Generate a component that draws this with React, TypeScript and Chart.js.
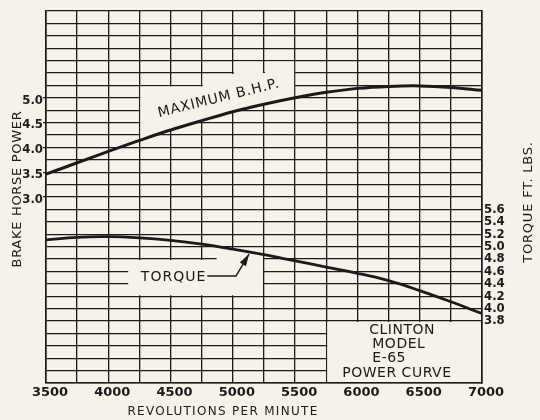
import { useEffect, useRef } from "react";
import { Chart, registerables } from "chart.js";

Chart.register(...registerables);

// ---- data ----
const rpm = [3500, 3750, 4000, 4250, 4500, 4750, 5000, 5250, 5500, 5750, 6000, 6250, 6500, 6750, 7000];
const maxBhp = [3.46, 3.69, 3.92, 4.14, 4.35, 4.54, 4.72, 4.87, 5.0, 5.11, 5.19, 5.23, 5.24, 5.21, 5.15];
const torqueFtLbs = [5.11, 5.15, 5.16, 5.14, 5.1, 5.04, 4.96, 4.87, 4.77, 4.67, 4.57, 4.45, 4.29, 4.11, 3.92];
const rpmTickLabels = [3500, 4000, 4500, 5000, 5500, 6000, 6500, 7000];
const bhpTickLabels = [3.0, 3.5, 4.0, 4.5, 5.0];
const torqueTickLabels = [3.8, 4.0, 4.2, 4.4, 4.6, 4.8, 5.0, 5.2, 5.4, 5.6];
const boxLines = ["CLINTON", "MODEL", "E-65", "POWER CURVE"];

const PAPER = "#f6f2ea";
const INK = "#1a1a1a";
const FONT = "'DejaVu Sans', 'Liberation Sans', sans-serif";
const COND = "'DejaVu Sans Condensed', 'DejaVu Sans', sans-serif";

const r2 = (v: number) => Math.round(v * 100) / 100;

function curveYAt(chart: any, dsIndex: number, xPix: number) {
  const pts = chart.getDatasetMeta(dsIndex).data;
  for (let i = 0; i < pts.length - 1; i++) {
    const a = pts[i], b = pts[i + 1];
    if (xPix >= a.x && xPix <= b.x) {
      const t = (xPix - a.x) / (b.x - a.x);
      return a.y + (b.y - a.y) * t;
    }
  }
  return pts[pts.length - 1].y;
}

const maskPlugin = {
  id: "masks",
  beforeDatasetsDraw(chart: any) {
    const { ctx } = chart;
    const sx = chart.scales.x, sy = chart.scales.y, st = chart.scales.y1;
    const X = (v: number) => sx.getPixelForValue(v);
    const Y = (v: number) => sy.getPixelForValue(v);
    const T = (v: number) => st.getPixelForValue(v);
    ctx.save();
    ctx.fillStyle = PAPER;

    // blank area above the B.H.P. curve (label space)
    ctx.beginPath();
    ctx.moveTo(X(4250) + 1, Y(5.25) + 1);
    ctx.lineTo(X(4750) + 1, Y(5.25) + 1);
    ctx.lineTo(X(4750) + 1, Y(5.5) + 1);
    ctx.lineTo(X(5000) + 1, Y(5.5) + 1);
    ctx.lineTo(X(5000) + 1, Y(5.75) + 1);
    ctx.lineTo(X(5250) - 1, Y(5.75) + 1);
    ctx.lineTo(X(5250) - 1, Y(5.5));
    ctx.lineTo(X(5250) + 1, Y(5.5));
    ctx.lineTo(X(5250) + 1, Y(5.75) + 1);
    ctx.lineTo(X(5500) - 1, Y(5.75) + 1);
    const xr = X(5500) - 1, xl = X(4250) + 1;
    for (let x = xr; x >= xl; x -= 3) ctx.lineTo(x, curveYAt(chart, 0, x));
    ctx.lineTo(xl, curveYAt(chart, 0, xl));
    ctx.closePath();
    ctx.fill();

    // blank area around the TORQUE label
    ctx.beginPath();
    ctx.moveTo(X(4160), T(4.8) + 1);
    ctx.lineTo(X(4870), T(4.8) + 1);
    const ta = X(4870), tb = X(5250) - 1;
    for (let x = ta; x <= tb; x += 3) ctx.lineTo(x, curveYAt(chart, 1, x));
    ctx.lineTo(tb, curveYAt(chart, 1, tb));
    ctx.lineTo(tb, T(4.2) - 1);
    ctx.lineTo(X(4160), T(4.2) - 1);
    ctx.closePath();
    ctx.fill();

    // title box
    ctx.fillRect(X(5750) + 1, T(3.8) + 1, X(7000) - X(5750) - 2, T(2.8) - T(3.8) - 2);
    ctx.restore();
  },
  afterDatasetsDraw(chart: any) {
    const { ctx } = chart;
    const sx = chart.scales.x, sy = chart.scales.y, st = chart.scales.y1;
    const X = (v: number) => sx.getPixelForValue(v);
    const Y = (v: number) => sy.getPixelForValue(v);
    const T = (v: number) => st.getPixelForValue(v);
    ctx.save();
    ctx.fillStyle = INK;
    ctx.strokeStyle = INK;

    // MAXIMUM B.H.P. label along the curve
    ctx.save();
    ctx.translate(X(4407), Y(4.61));
    ctx.rotate(-0.243);
    ctx.font = `14px ${FONT}`;
    (ctx as any).letterSpacing = "0.8px";
    ctx.textAlign = "left";
    ctx.textBaseline = "alphabetic";
    ctx.fillText("MAXIMUM B.H.P.", 0, 0);
    ctx.restore();

    // TORQUE label and arrow
    ctx.save();
    ctx.font = `14px ${FONT}`;
    (ctx as any).letterSpacing = "1px";
    ctx.textAlign = "center";
    ctx.textBaseline = "middle";
    ctx.fillText("TORQUE", X(4516) + 1, T(4.51));
    ctx.restore();

    const p0x = X(4795), p0y = T(4.525);
    const p1x = X(5025), p1y = T(4.525);
    const tipx = X(5130), tipy = T(4.88);
    ctx.lineWidth = 1.5;
    ctx.beginPath();
    ctx.moveTo(p0x, p0y);
    ctx.lineTo(p1x, p1y);
    ctx.lineTo(tipx, tipy);
    ctx.stroke();
    const ang = Math.atan2(tipy - p1y, tipx - p1x);
    const len = 12, hw = 3.6;
    const bx = tipx - len * Math.cos(ang), by = tipy - len * Math.sin(ang);
    ctx.beginPath();
    ctx.moveTo(tipx, tipy);
    ctx.lineTo(bx + hw * Math.sin(ang), by - hw * Math.cos(ang));
    ctx.lineTo(bx - hw * Math.sin(ang), by + hw * Math.cos(ang));
    ctx.closePath();
    ctx.fill();

    // box text
    const bl = X(5750), bt = T(3.8);
    ctx.font = `14px ${FONT}`;
    (ctx as any).letterSpacing = "0.5px";
    ctx.textBaseline = "middle";
    ctx.textAlign = "left";
    ctx.fillText(boxLines[0], bl + 43, bt + 9);
    ctx.fillText(boxLines[1], bl + 46, bt + 23);
    ctx.fillText(boxLines[2], bl + 46, bt + 37);
    ctx.fillText(boxLines[3], bl + 16, bt + 52);
    ctx.restore();
  },
  afterDraw(chart: any) {
    const { ctx } = chart;
    ctx.save();
    ctx.fillStyle = INK;
    ctx.textAlign = "center";
    ctx.textBaseline = "middle";

    ctx.save();
    ctx.translate(18, 189);
    ctx.rotate(-Math.PI / 2);
    ctx.font = `13px ${FONT}`;
    (ctx as any).letterSpacing = "0.7px";
    ctx.fillText("BRAKE HORSE POWER", 0, 0);
    ctx.restore();

    ctx.save();
    ctx.translate(529, 202);
    ctx.rotate(-Math.PI / 2);
    ctx.font = `13px ${FONT}`;
    (ctx as any).letterSpacing = "0.8px";
    ctx.fillText("TORQUE FT. LBS.", 0, 0);
    ctx.restore();

    ctx.font = `12px ${FONT}`;
    (ctx as any).letterSpacing = "1.3px";
    ctx.fillText("REVOLUTIONS PER MINUTE", 223, 412);
    ctx.restore();
  },
};

export default function App() {
  const ref = useRef<HTMLCanvasElement | null>(null);

  useEffect(() => {
    if (!ref.current) return;
    const chart = new Chart(ref.current, {
      type: "line",
      data: {
        datasets: [
          {
            label: "Maximum B.H.P.",
            data: rpm.map((x, i) => ({ x, y: maxBhp[i] })),
            yAxisID: "y",
            borderColor: INK,
            borderWidth: 3,
            pointRadius: 0,
            tension: 0.4,
            fill: false,
          },
          {
            label: "Torque",
            data: rpm.map((x, i) => ({ x, y: torqueFtLbs[i] })),
            yAxisID: "y1",
            borderColor: INK,
            borderWidth: 2.8,
            pointRadius: 0,
            tension: 0.4,
            fill: false,
          },
        ],
      },
      options: {
        animation: false,
        responsive: false,
        layout: { padding: { top: 11, left: 0, right: 0, bottom: 0 } },
        plugins: { legend: { display: false }, tooltip: { enabled: false } },
        scales: {
          x: {
            type: "linear",
            min: 3500,
            max: 7000,
            afterFit: (s: any) => { s.height = 37; },
            grid: { color: INK, lineWidth: 1.3, drawTicks: false },
            border: { color: INK, width: 1.6 },
            ticks: {
              stepSize: 250,
              autoSkip: false,
              maxRotation: 0,
              padding: 2,
              labelOffset: 4,
              color: INK,
              font: { family: FONT, size: 13, weight: "bold" },
              callback: (v: any) => (rpmTickLabels.includes(Number(v)) ? String(v) : ""),
            },
          },
          y: {
            type: "linear",
            position: "left",
            min: -0.75,
            max: 6.75,
            afterFit: (s: any) => { s.width = 46; },
            grid: {
              color: INK,
              lineWidth: 1.3,
              drawTicks: true,
              tickLength: 3,
              tickColor: (c: any) => (c.tick && bhpTickLabels.includes(r2(c.tick.value)) ? INK : "rgba(0,0,0,0)"),
            },
            border: { color: INK, width: 1.6 },
            ticks: {
              stepSize: 0.25,
              autoSkip: false,
              padding: 0,
              labelOffset: 2.5,
              color: INK,
              font: { family: COND, size: 13, weight: "bold" },
              callback: (v: any) => {
                const n = r2(Number(v));
                return bhpTickLabels.includes(n) ? n.toFixed(1) : "";
              },
            },
          },
          y1: {
            type: "linear",
            position: "right",
            min: 2.8,
            max: 8.8,
            afterFit: (s: any) => { s.width = 58; },
            grid: { display: false, drawTicks: false },
            border: { color: INK, width: 1.6 },
            ticks: {
              stepSize: 0.2,
              autoSkip: false,
              padding: 2,
              color: INK,
              font: { family: COND, size: 13, weight: "bold" },
              callback: (v: any) => {
                const n = Math.round(Number(v) * 10) / 10;
                return torqueTickLabels.includes(n) ? n.toFixed(1) : "";
              },
            },
          },
        },
      },
      plugins: [maskPlugin],
    } as any);
    return () => chart.destroy();
  }, []);

  return (
    <div style={{ position: "fixed", left: 0, top: 0, width: 540, height: 420, background: PAPER }}>
      <canvas ref={ref} width={540} height={420} style={{ display: "block", width: 540, height: 420 }} />
    </div>
  );
}
